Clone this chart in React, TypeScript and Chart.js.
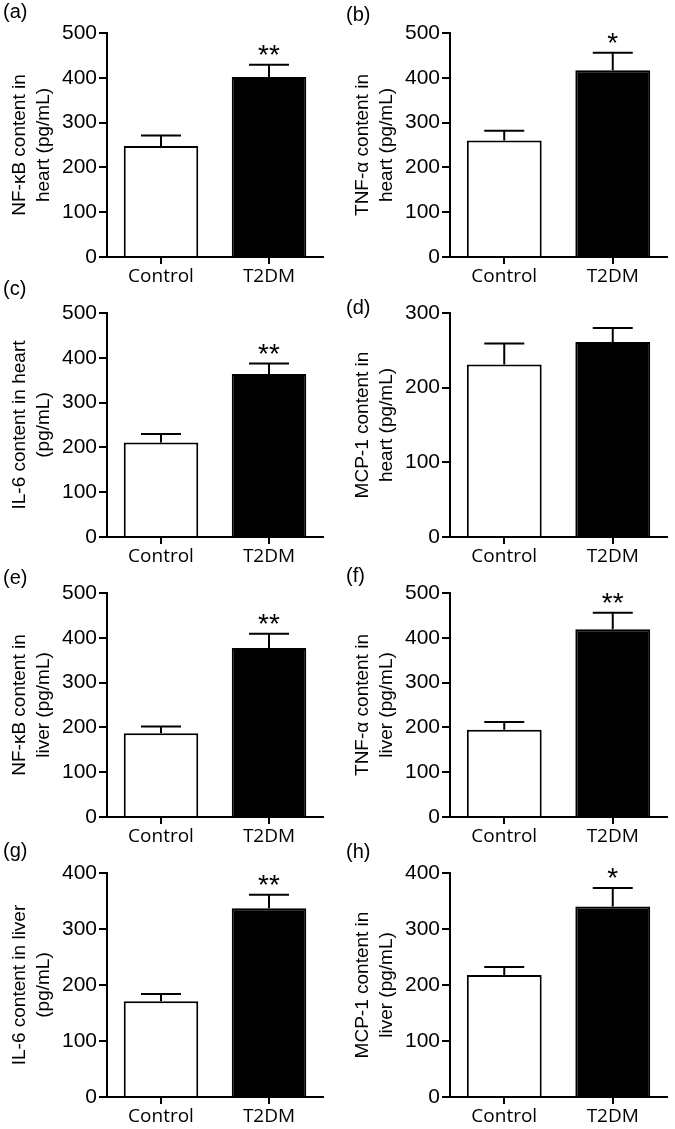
import React, { useEffect, useRef } from "react";
import { Chart, registerables } from "chart.js";

Chart.register(...registerables);

// ---- data ----
const categories = ["Control", "T2DM"];
const panelLetters = ["(a)", "(b)", "(c)", "(d)", "(e)", "(f)", "(g)", "(h)"];
const yTitles: string[][] = [
  ["NF-κB content in", "heart (pg/mL)"],
  ["TNF-α content in", "heart (pg/mL)"],
  ["IL-6 content in heart", "(pg/mL)"],
  ["MCP-1 content in", "heart (pg/mL)"],
  ["NF-κB content in", "liver (pg/mL)"],
  ["TNF-α content in", "liver (pg/mL)"],
  ["IL-6 content in liver", "(pg/mL)"],
  ["MCP-1 content in", "liver (pg/mL)"],
];
const controlMeans = [248, 260, 211, 231, 187, 195, 171, 218];
const controlErr = [23, 22, 19, 28, 15, 17, 13, 14];
const t2dmMeans = [402, 417, 364, 261, 377, 419, 337, 340];
const t2dmErr = [27, 39, 23, 19, 32, 37, 24, 33];
const significance = ["**", "*", "**", "", "**", "**", "**", "*"];
const yMax = [500, 500, 500, 300, 500, 500, 400, 400];
const yStep = [100, 100, 100, 100, 100, 100, 100, 100];

// ---- layout ----
const COL_X = [0, 343];
const COL_W = [337, 332];
const PLOT_W = [216, 217];
const ROW_Y = [0, 280, 560, 840];
const CANVAS_H = 289;
const AXIS_W = 107;
const PLOT_TOP = 33;
const PLOT_BOTTOM = 257;
const LETTER_Y = [12.5, 15, 9, 28, 18, 16, 11, 12];

const SANS = "'Liberation Sans', Arial, Helvetica, sans-serif";
const LABEL_FONT = "'Open Sans', 'Noto Sans', sans-serif";

function Panel({ index }: { index: number }) {
  const ref = useRef<HTMLCanvasElement>(null);
  const row = Math.floor(index / 2);
  const col = index % 2;

  useEffect(() => {
    const canvas = ref.current;
    if (!canvas) return;
    const means = [controlMeans[index], t2dmMeans[index]];
    const errs = [controlErr[index], t2dmErr[index]];

    const overlay = {
      id: "overlay" + index,
      afterDatasetsDraw(chart: any) {
        const ctx = chart.ctx;
        const ys = chart.scales.y;
        const meta = chart.getDatasetMeta(0);
        ctx.save();
        ctx.strokeStyle = "#000";
        ctx.lineWidth = 2;
        let capT2 = 0;
        meta.data.forEach((bar: any, i: number) => {
          const x = bar.x;
          const yTop = ys.getPixelForValue(means[i]);
          const yCap = ys.getPixelForValue(means[i] + errs[i]);
          ctx.beginPath();
          ctx.moveTo(x, yTop);
          ctx.lineTo(x, yCap);
          ctx.moveTo(x - 20, yCap);
          ctx.lineTo(x + 20, yCap);
          ctx.stroke();
          if (i === 1) capT2 = yCap;
        });
        // redraw the x axis line over the bar bases
        const area = chart.chartArea;
        ctx.beginPath();
        ctx.moveTo(area.left - 1, area.bottom);
        ctx.lineTo(area.right, area.bottom);
        ctx.stroke();
        const star = significance[index];
        if (star) {
          const bar = meta.data[1];
          ctx.fillStyle = "#000";
          ctx.font = `28px ${SANS}`;
          ctx.textAlign = "center";
          ctx.textBaseline = "alphabetic";
          ctx.fillText(star, bar.x, capT2 - 1);
        }
        ctx.fillStyle = "#000";
        ctx.font = `20px ${SANS}`;
        ctx.textAlign = "left";
        ctx.textBaseline = "middle";
        ctx.fillText(panelLetters[index], 3, LETTER_Y[index]);
        ctx.restore();
      },
    };

    const chart = new Chart(canvas, {
      type: "bar",
      data: {
        labels: categories,
        datasets: [
          {
            data: means,
            backgroundColor: ["#ffffff", "#000000"],
            borderColor: "#000000",
            borderWidth: 2,
            borderSkipped: "start",
            barPercentage: 0.69,
            categoryPercentage: 1,
          },
        ],
      },
      options: {
        responsive: false,
        animation: false,
        events: [],
        layout: {
          padding: {
            top: PLOT_TOP,
            left: 0,
            right: COL_W[col] - AXIS_W - PLOT_W[col],
            bottom: 0,
          },
        },
        plugins: {
          legend: { display: false },
          tooltip: { enabled: false },
          title: { display: false },
        },
        scales: {
          x: {
            type: "category",
            offset: true,
            grid: {
              display: true,
              drawOnChartArea: false,
              drawTicks: true,
              tickLength: 7,
              color: "#000",
              lineWidth: 2,
              offset: false,
            },
            border: { display: true, color: "#000", width: 2 },
            ticks: {
              color: "#000",
              font: { family: LABEL_FONT, size: 19 },
              padding: 1,
              maxRotation: 0,
              autoSkip: false,
            },
            afterFit: (s: any) => {
              s.height = CANVAS_H - PLOT_BOTTOM;
            },
          },
          y: {
            min: 0,
            max: yMax[index],
            ticks: {
              stepSize: yStep[index],
              color: "#000",
              font: { family: SANS, size: 21 },
              padding: 2,
            },
            grid: {
              display: true,
              drawOnChartArea: false,
              drawTicks: true,
              tickLength: 8,
              color: "#000",
              lineWidth: 2,
            },
            border: { display: true, color: "#000", width: 2 },
            title: {
              display: true,
              text: yTitles[index],
              color: "#000",
              font: { family: SANS, size: 19, lineHeight: 1.25 },
              padding: { top: 8, bottom: 0 },
            },
            afterFit: (s: any) => {
              s.width = AXIS_W;
            },
          },
        },
      } as any,
      plugins: [overlay],
    });
    return () => chart.destroy();
  }, [index, col]);

  return (
    <canvas
      ref={ref}
      width={COL_W[col]}
      height={CANVAS_H}
      style={{
        position: "absolute",
        left: COL_X[col],
        top: ROW_Y[row],
        width: COL_W[col],
        height: CANVAS_H,
      }}
    />
  );
}

export default function App() {
  return (
    <div
      style={{
        position: "absolute",
        left: 0,
        top: 0,
        width: 675,
        height: 1129,
        background: "#ffffff",
        overflow: "hidden",
      }}
    >
      {[0, 1, 2, 3, 4, 5, 6, 7].map((i) => (
        <Panel key={i} index={i} />
      ))}
    </div>
  );
}
